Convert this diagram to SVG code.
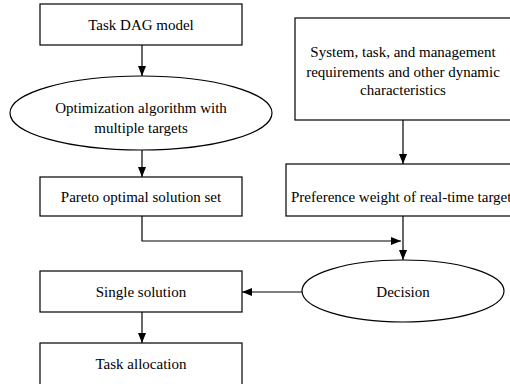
<svg xmlns="http://www.w3.org/2000/svg" width="510" height="384" viewBox="0 0 510 384">
<defs>
<marker id="arr" markerWidth="10" markerHeight="8" refX="10" refY="4" orient="auto" markerUnits="userSpaceOnUse">
<path d="M0,0 L10,4 L0,8 Z" fill="#000"/>
</marker>
<style>
.n{fill:#fff;stroke:#000;stroke-width:1.2}
.t{font-size:15px;fill:#000;text-anchor:middle}
.c{fill:none;stroke:#000;stroke-width:1.2;marker-end:url(#arr)}
</style>
</defs>
<rect width="510" height="384" fill="#fff"/>
<g id="connectors">
<path class="c" d="M142,45 V76"/>
<path class="c" d="M142,150 V177"/>
<path class="c" d="M142,216 V241 H401"/>
<path class="c" d="M403,120 V164"/>
<path class="c" d="M403,216 V260"/>
<path class="c" d="M302,292 H242"/>
<path class="c" d="M142,312 V343"/>
</g>
<g font-family="Liberation Serif, Times New Roman, serif">
<g id="task-dag">
<rect class="n" x="40" y="4" width="202" height="41"/>
<text class="t" x="141" y="30">Task DAG model</text>
</g>
<g id="optimization">
<ellipse class="n" cx="141" cy="113" rx="131" ry="37"/>
<text class="t" x="141" y="113">Optimization algorithm with</text>
<text class="t" x="141" y="133">multiple targets</text>
</g>
<g id="pareto">
<rect class="n" x="40" y="177" width="202" height="39"/>
<text class="t" x="141" y="202">Pareto optimal solution set</text>
</g>
<g id="system">
<rect class="n" x="295" y="18" width="230" height="102"/>
<text class="t" x="403" y="57">System, task, and management</text>
<text class="t" x="403" y="77">requirements and other dynamic</text>
<text class="t" x="403" y="95">characteristics</text>
</g>
<g id="preference">
<rect class="n" x="286" y="164" width="240" height="52"/>
<text class="t" x="291" y="202" style="text-anchor:start">Preference weight of real-time targets</text>
</g>
<g id="decision">
<ellipse class="n" cx="403" cy="291" rx="101" ry="31"/>
<text class="t" x="403" y="297">Decision</text>
</g>
<g id="single">
<rect class="n" x="40" y="271" width="202" height="41"/>
<text class="t" x="141" y="297">Single solution</text>
</g>
<g id="allocation">
<rect class="n" x="40" y="343" width="202" height="50"/>
<text class="t" x="141" y="369">Task allocation</text>
</g>
</g>
</svg>
